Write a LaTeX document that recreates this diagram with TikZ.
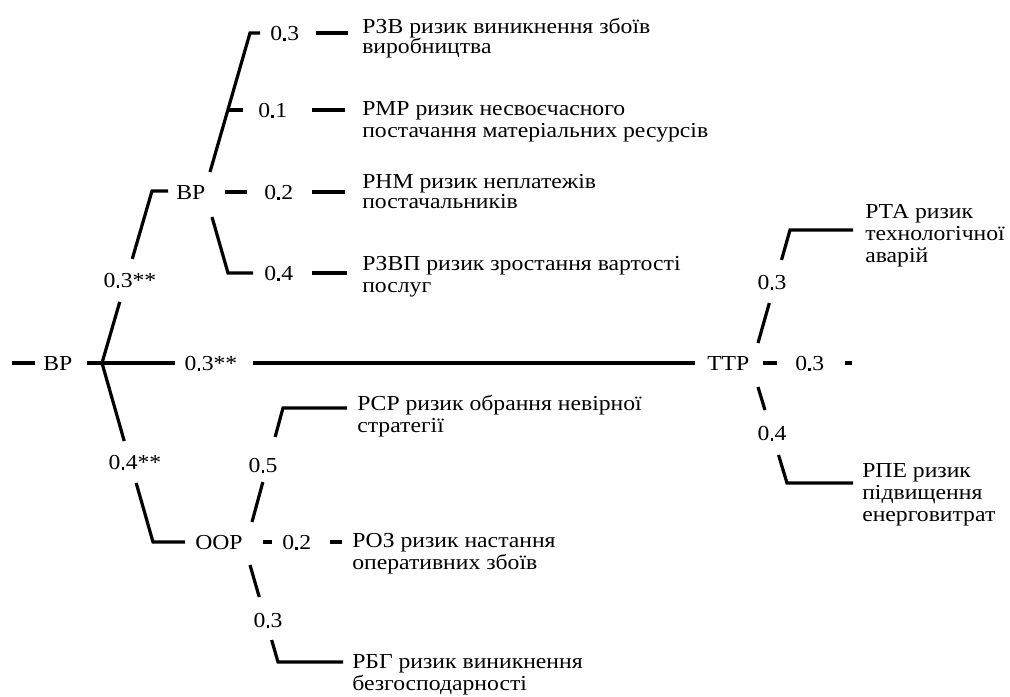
\documentclass[tikz,border=0pt]{standalone}
\usepackage{fontspec}
\setmainfont{Liberation Serif}[FakeStretch=1.11]
\usetikzlibrary{calc}
% small decimal mark used in the weights
\newcommand\dsep{\kern0.9pt\raisebox{-0.4pt}{\rule{1.9pt}{1.9pt}}\kern1.1pt}
% stacked lines whose baseline is the first line's baseline
\newcommand\txtlines[2][16.5pt]{\vtop{\baselineskip=#1\relax\lineskiplimit=-30pt\lineskip=0pt\halign{##\hfil\cr#2\crcr}}}
\begin{document}
\begin{tikzpicture}[x=0.75pt,y=-0.75pt,
  ln/.style={line width=2.4pt},
  txt/.style={inner sep=0pt,anchor=base west,font=\fontsize{16}{16.5}\selectfont},
  num/.style={inner sep=0pt,anchor=base,font=\fontsize{16}{16.5}\selectfont}]
\useasboundingbox (0,0) rectangle (1010,696);

% ---- root
\coordinate (s0) at (12,363); \coordinate (s1) at (35,363);
\node[txt] (vr0) at (43,370.5) {ВР};
\coordinate (t0) at (87,363); \coordinate (j) at (102,363);
\draw[ln] (s0) -- (s1);
\draw[line width=3.6pt] (t0) -- (j);

% ---- middle branch to ТТР
\coordinate (m1) at (175,363); \coordinate (m2) at (253,363); \coordinate (m3) at (695,363);
\node[num] (w0) at (211,370) {0\dsep3**};
\node[txt] (ttr) at (707,370.5) {ТТР};
\draw[ln] (j) -- (m1);
\draw[ln] (m2) -- (m3);

% ---- upper branch to ВР
\coordinate (e1) at (152,191); \coordinate (e1b) at (168,191);
\node[num] (w1) at (130,287) {0\dsep3**};
\draw[ln] (j) -- ($(j)!0.355!(e1)$);
\draw[ln] ($(j)!0.605!(e1)$) -- (e1) -- (e1b);
\node[txt] (vr1) at (176,199) {ВР};

% ВР children
\coordinate (a0) at (210,172); \coordinate (a1) at (250,33); \coordinate (a2) at (260,33);
\draw[ln] (a0) -- (a1) -- (a2);
\node[txt] (w2) at (270,40) {0\dsep3};
\coordinate (d2a) at (316,33); \coordinate (d2b) at (348,33);
\draw[ln] (d2a) -- (d2b);
\node[txt] (r1) at (362,33) {\txtlines[15pt]{РЗВ ризик виникнення збоїв\cr виробництва}};

\coordinate (b0) at (228,110); \coordinate (b1) at (243,110);
\draw[ln] (b0) -- (b1);
\node[txt] (w3) at (258,117) {0\dsep1};
\coordinate (d3a) at (312,110); \coordinate (d3b) at (345,110);
\draw[ln] (d3a) -- (d3b);
\node[txt] (r2) at (362,115) {\txtlines{РМР ризик несвоєчасного\cr постачання матеріальних ресурсів}};

\coordinate (g0) at (225,192); \coordinate (g1) at (247,192);
\draw[ln] (g0) -- (g1);
\node[txt] (w4) at (264,199) {0\dsep2};
\coordinate (d4a) at (312,192); \coordinate (d4b) at (345,192);
\draw[ln] (d4a) -- (d4b);
\node[txt] (r3) at (362,188) {\txtlines[15.5pt]{РНМ ризик неплатежів\cr постачальників}};

\coordinate (h0) at (212,217); \coordinate (h1) at (228,273); \coordinate (h2) at (253,273);
\draw[ln] (h0) -- (h1) -- (h2);
\node[txt] (w5) at (264,280) {0\dsep4};
\coordinate (d5a) at (312,273); \coordinate (d5b) at (347,273);
\draw[ln] (d5a) -- (d5b);
\node[txt] (r4) at (362,270) {\txtlines{РЗВП ризик зростання вартості\cr послуг}};

% ---- lower branch to ООР
\coordinate (c0) at (153,542); \coordinate (c1) at (185,542);
\node[num] (w6) at (135,469) {0\dsep4**};
\draw[ln] (j) -- ($(j)!0.436!(c0)$);
\draw[ln] ($(j)!0.67!(c0)$) -- (c0) -- (c1);
\node[txt] (oor) at (195,549.5) {ООР};

% ООР children
\coordinate (o0) at (252,522); \coordinate (o1) at (283,408); \coordinate (o2) at (347,408);
\node[num] (w7) at (263,472) {0\dsep5};
\draw[ln] (o0) -- ($(o0)!0.35!(o1)$);
\draw[ln] ($(o0)!0.746!(o1)$) -- (o1) -- (o2);
\node[txt] (r5) at (357,410) {\txtlines{РСР ризик обрання невірної\cr стратегії}};

\coordinate (k0) at (263,542); \coordinate (k1) at (272,542);
\draw[ln] (k0) -- (k1);
\node[txt] (w8) at (282,549) {0\dsep2};
\coordinate (k2) at (330,542); \coordinate (k3) at (342,542);
\draw[ln] (k2) -- (k3);
\node[txt] (r6) at (352,547) {\txtlines{РОЗ ризик настання\cr оперативних збоїв}};

\coordinate (p0) at (250,565); \coordinate (p1) at (278,662); \coordinate (p2) at (343,662);
\node[num] (w9) at (268,627) {0\dsep3};
\draw[ln] (p0) -- ($(p0)!0.33!(p1)$);
\draw[ln] ($(p0)!0.773!(p1)$) -- (p1) -- (p2);
\node[txt] (r7) at (352,668) {\txtlines{РБГ ризик виникнення\cr безгосподарності}};

% ---- ТТР children
\coordinate (n0) at (763,363); \coordinate (n1) at (777,363);
\draw[ln] (n0) -- (n1);
\node[txt] (w10) at (795,370) {0\dsep3};
\coordinate (n2) at (845,363); \coordinate (n3) at (852,363);
\draw[ln] (n2) -- (n3);

\coordinate (q0) at (758,343); \coordinate (q1) at (790,230); \coordinate (q2) at (853,230);
\node[num] (w11) at (772,289) {0\dsep3};
\draw[ln] (q0) -- ($(q0)!0.354!(q1)$);
\draw[ln] ($(q0)!0.735!(q1)$) -- (q1) -- (q2);
\node[txt] (r8) at (865,218) {\txtlines{РТА ризик\cr технологічної\cr аварій}};

\coordinate (u0) at (758,387); \coordinate (u1) at (787,483); \coordinate (u2) at (853,483);
\node[num] (w12) at (772,440) {0\dsep4};
\draw[ln] (u0) -- ($(u0)!0.24!(u1)$);
\draw[ln] ($(u0)!0.708!(u1)$) -- (u1) -- (u2);
\node[txt] (r9) at (862,477) {\txtlines{РПЕ ризик\cr підвищення\cr енерговитрат}};
\end{tikzpicture}
\end{document}
